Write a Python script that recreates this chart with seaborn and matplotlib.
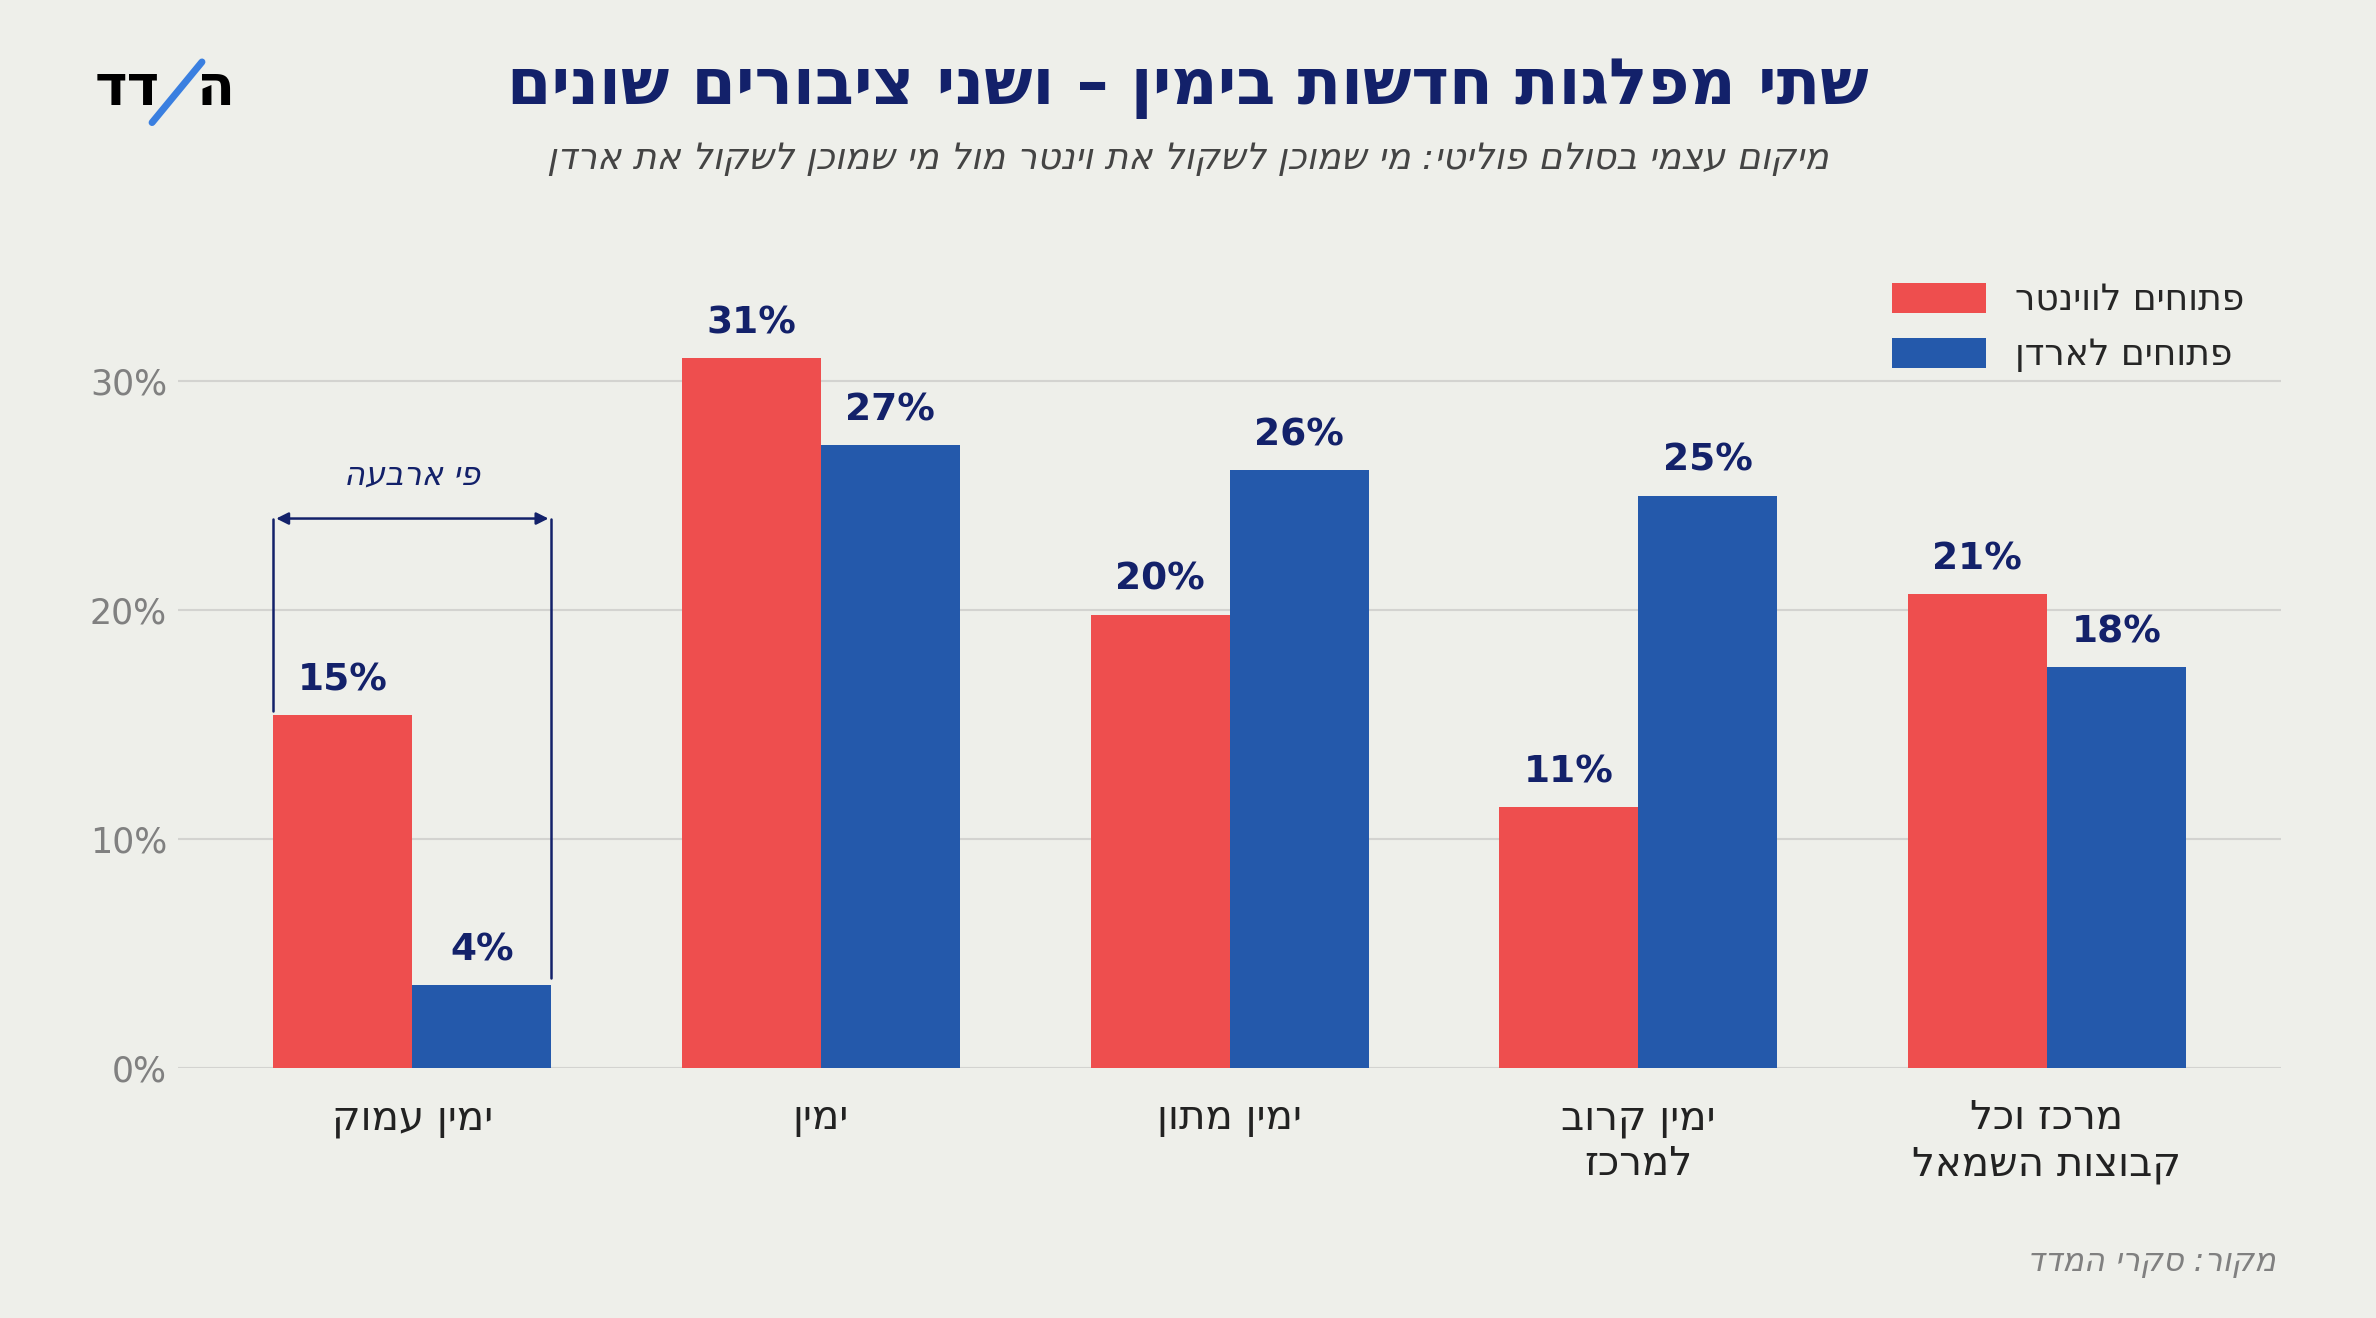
import matplotlib
matplotlib.use("Agg")
import matplotlib.pyplot as plt
import seaborn as sns
import pandas as pd

def rtl(s):
    return "\n".join(line[::-1] for line in s.split("\n"))

categories = ["ימין עמוק", "ימין", "ימין מתון", "ימין קרוב\nלמרכז", "מרכז וכל\nקבוצות השמאל"]
series_names = ["פתוחים לווינטר", "פתוחים לארדן"]
winter = [15.4, 31.0, 19.8, 11.4, 20.7]
arden = [3.6, 27.2, 26.1, 25.0, 17.5]
yticks = [0, 10, 20, 30]

BG = "#EEEFEA"; RED = "#EE4E4E"; BLUE = "#2459AB"; NAVY = "#13216A"

sns.set_theme(style="white")
plt.rcParams['font.family'] = ['DejaVu Sans']

rows = []
for c, w, a in zip(categories, winter, arden):
    rows.append({"cat": rtl(c), "s": rtl(series_names[0]), "v": w})
    rows.append({"cat": rtl(c), "s": rtl(series_names[1]), "v": a})
df = pd.DataFrame(rows)

fig = plt.figure(figsize=(23.76, 13.18), dpi=100, facecolor=BG)
ax = fig.add_axes([0.075, 0.19, 0.885, 0.6075], facecolor=BG)
sns.barplot(data=df, x="cat", y="v", hue="s", palette=[RED, BLUE], width=0.68,
            saturation=1, ax=ax, errorbar=None, linewidth=0)
ax.set_ylim(0, 35)
ax.set_xlim(-0.573, 4.573)
ax.set_yticks(yticks)
ax.set_yticklabels([f"{t}%" for t in yticks], fontsize=25, color="#808080")
ax.tick_params(axis="x", labelsize=29, colors="#222222", length=0, pad=22)
ax.tick_params(axis="y", length=0, pad=8)
ax.set_xlabel(""); ax.set_ylabel("")
ax.grid(axis="y", color="#D3D3D0", linewidth=1.5)
ax.set_axisbelow(True)
for s in ax.spines.values():
    s.set_visible(False)

for cont in ax.containers:
    ax.bar_label(cont, labels=[f"{round(v.get_height())}%" for v in cont],
                 padding=12, fontsize=27, fontweight="bold", color=NAVY)

leg = ax.legend(loc="upper right", bbox_to_anchor=(0.998, 1.02), frameon=False,
                fontsize=26, handlelength=2.6, handleheight=0.9, labelspacing=0.55)

# annotation bracket
xl, xr = -0.34, 0.34
ax.plot([xl, xl], [15.6, 24], color=NAVY, lw=1.8)
ax.plot([xr, xr], [3.9, 24], color=NAVY, lw=1.8)
ax.annotate("", xy=(xl, 24), xytext=(xr, 24),
            arrowprops=dict(arrowstyle="<|-|>", color=NAVY, lw=1.8, mutation_scale=18))
ax.text(0, 25.2, rtl("פי ארבעה"), ha="center", va="bottom", fontsize=23,
        style="italic", color=NAVY)

fig.text(0.5, 0.933, rtl("שתי מפלגות חדשות בימין – ושני ציבורים שונים"),
         ha="center", va="center", fontsize=46, fontweight="bold", color=NAVY)
fig.text(0.5, 0.879, rtl("מיקום עצמי בסולם פוליטי: מי שמוכן לשקול את וינטר מול מי שמוכן לשקול את ארדן"),
         ha="center", va="center", fontsize=26, style="italic", color="#444444")
fig.text(0.958, 0.042, rtl("מקור: סקרי המדד"), ha="right", va="center",
         fontsize=23, style="italic", color="#808080")

# logo
fig.text(0.04, 0.932, rtl("דד"), ha="left", va="center", fontsize=40,
         fontweight="bold", color="black")
fig.add_artist(plt.Line2D([0.064, 0.085], [0.907, 0.953], transform=fig.transFigure,
                          color="#3A7FE0", lw=5))
fig.text(0.083, 0.932, "ה", ha="left", va="center", fontsize=40,
         fontweight="bold", color="black")

fig.savefig("out.png", dpi=100, facecolor=BG)
